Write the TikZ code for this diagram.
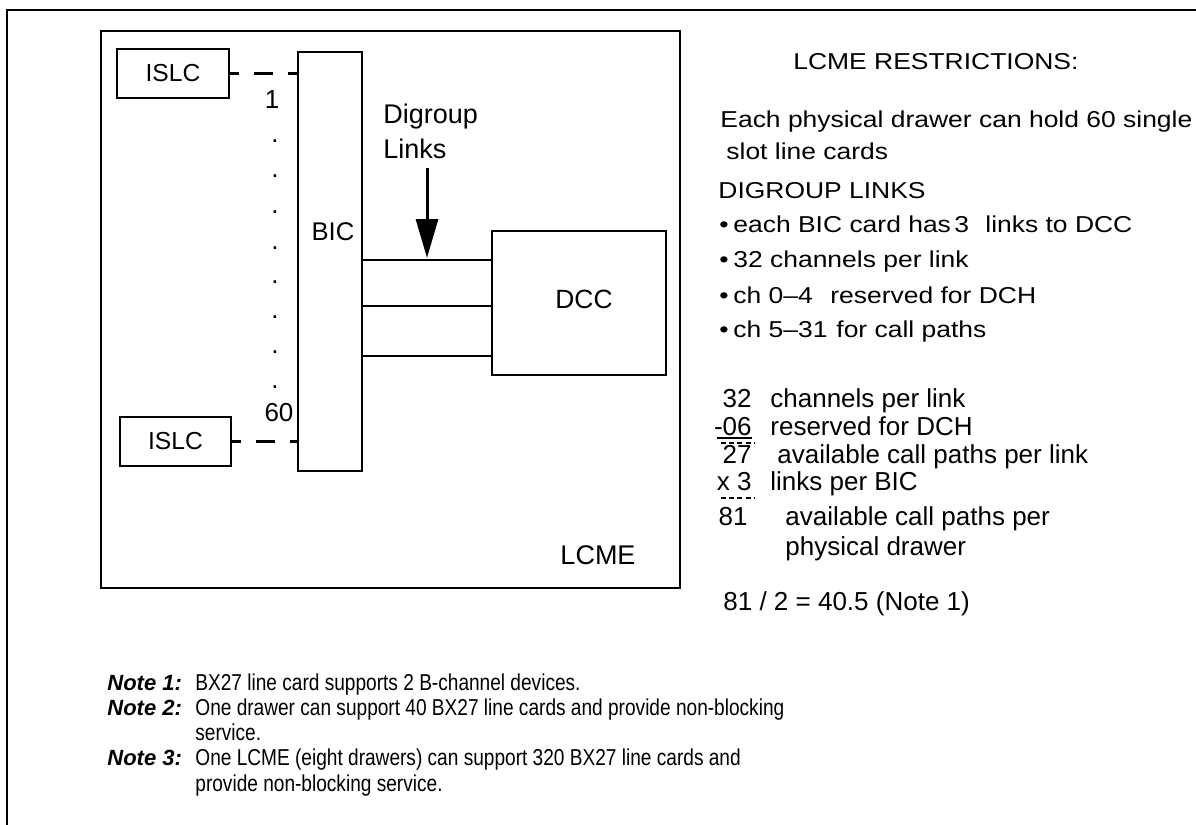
\documentclass[tikz,border=0pt]{standalone}
\usepackage{fontspec}
\setmainfont{Liberation Sans}
\newfontfamily\widefont[FakeStretch=1.15]{Liberation Sans}
\newfontfamily\narrowfont[FakeStretch=0.83]{Liberation Sans}
\usetikzlibrary{arrows.meta}
\newcommand\fsz[1]{\fontsize{#1}{#1}\selectfont}
\begin{document}
\begin{tikzpicture}[x=0.5pt,y=-0.5pt,
  box/.style={draw, line width=1.3pt, inner sep=0pt},
  wire/.style={line width=1.3pt},
  dwire/.style={line width=1.3pt, dash pattern=on 9.5pt off 7.5pt, dash phase=5pt},
  txt/.style={inner sep=0pt, anchor=base west},
  rtxt/.style={inner sep=0pt, anchor=base east},
  rt/.style={txt, font=\widefont\fsz{11.5}},
  calc/.style={txt, font=\fsz{13}},
  calcn/.style={rtxt, font=\fsz{13}},
  note/.style={txt, font=\narrowfont\fsz{11.5}},
  notelab/.style={txt, font=\fsz{11}\bfseries\itshape},
  sep/.style={line width=1pt, dash pattern=on 2.5pt off 1.6pt},
]
\useasboundingbox (0,0) rectangle (1196,825);
% outer frame (left and top only)
\draw[line width=1pt] (7,825) -- (7,10) -- (1196,10);

% LCME drawer
\node[box, minimum width=289.5pt, minimum height=278.5pt] (lcme) at (390.5,309.5) {};
\node[inner sep=0pt, font=\fsz{13.5}] (lcmelab) at (598,555) {LCME};

% ISLC cards
\node[box, minimum width=56pt, minimum height=24.5pt, font=\fsz{12.3}] (islc1) at (173,73.5) {ISLC};
\node[box, minimum width=55.5pt, minimum height=24.5pt, font=\fsz{12.3}] (islc2) at (175.5,441.5) {ISLC};

% BIC
\node[box, minimum width=32pt, minimum height=209.5pt] (bic) at (330,261.5) {};
\node[inner sep=0pt, font=\fsz{12.8}] (biclab) at (333,232) {BIC};

% DCC
\node[box, minimum width=87pt, minimum height=72pt] (dcc) at (579,303) {};
\node[inner sep=0pt, font=\fsz{13.2}] (dcclab) at (584,299) {DCC};

% ISLC to BIC dashed connections
\draw[dwire] (islc1.east) -- (bic.west |- islc1.east);
\draw[dwire] (islc2.east) -- (bic.west |- islc2.east);

% numbering and dots
\node[inner sep=0pt, font=\fsz{13}] (n1) at (272,100) {1};
\node[inner sep=0pt, font=\fsz{13}] (n60) at (279,413) {60};
\foreach \yy [count=\i] in {141,176,212,248,282,317,352,387}
  \node[inner sep=0pt, anchor=base, font=\fsz{13}] (dot\i) at (275,\yy+1.5) {.};

% digroup links
\coordinate (l1) at (0,260);
\coordinate (l2) at (0,306);
\coordinate (l3) at (0,356);
\draw[wire] (bic.east |- l1) -- (dcc.west |- l1);
\draw[wire] (bic.east |- l2) -- (dcc.west |- l2);
\draw[wire] (bic.east |- l3) -- (dcc.west |- l3);

\node[txt, font=\fsz{13.5}] (dg1) at (383,123) {Digroup};
\node[txt, font=\fsz{13.5}] (dg2) at (383,158) {Links};
\coordinate (arrS) at (427,168);
\coordinate (arrE) at (427,258);
\draw[line width=1.5pt, -{Triangle[length=19.5pt,width=11pt]}] (arrS) -- (arrE);

% restrictions text
\node[rt] (r0) at (793,69) {LCME RESTRICTIONS:};
\node[rt] (r1) at (720,127) {Each physical drawer can hold 60 single};
\node[rt] (r2) at (726,159) {slot line cards};
\node[rt] (r3) at (718,198) {DIGROUP LINKS};
\foreach \yy [count=\i] in {232,267,303,337}
  \node[rt] (b\i) at (719,\yy) {•};
\node[rt] (r4) at (733,232) {each BIC card has};
\node[rt] (r4b) at (954,232) {3};
\node[rt] (r4c) at (985,232) {links to DCC};
\node[rt] (r5) at (733,267) {32 channels per link};
\node[rt] (r6) at (733,303) {ch 0–4};
\node[rt] (r6b) at (830,303) {reserved for DCH};
\node[rt] (r7) at (733,337) {ch 5–31};
\node[rt] (r7b) at (836,337) {for call paths};

% calculation
\node[calcn] (c1n) at (752,407) {32};
\node[calc] (c1) at (770,407) {channels per link};
\node[calcn] (c2n) at (752,435.5) {-06};
\node[calc] (c2) at (770,435.5) {reserved for DCH};
\draw[line width=1pt] (c2n.base west) ++(3,2.5) coordinate (u1) -- (c2n.base east |- u1);
\coordinate (s1a) at (721,442.5);
\coordinate (s1b) at (754,442.5);
\draw[sep] (s1a) -- (s1b);
\node[calcn] (c3n) at (752,463.5) {27};
\node[calc] (c3) at (777,463.5) {available call paths per link};
\node[calcn] (c4n) at (752,490) {x 3};
\node[calc] (c4) at (770,490) {links per BIC};
\coordinate (s2a) at (721,497.5);
\coordinate (s2b) at (754,497.5);
\draw[sep] (s2a) -- (s2b);
\node[calcn] (c5n) at (748,525) {81};
\node[calc] (c5) at (785,525) {available call paths per};
\node[calc] (c6) at (785,555) {physical drawer};
\node[calc] (c7) at (723,610) {81 / 2 = 40.5 (Note 1)};

% notes
\node[notelab] (nl1) at (107,690) {Note 1:};
\node[note] (nt1) at (195,690) {BX27 line card supports 2 B-channel devices.};
\node[notelab] (nl2) at (107,715) {Note 2:};
\node[note] (nt2) at (195,715) {One drawer can support 40 BX27 line cards and provide non-blocking};
\node[note] (nt2b) at (195,740) {service.};
\node[notelab] (nl3) at (107,765.5) {Note 3:};
\node[note] (nt3) at (195,765.5) {One LCME (eight drawers) can support 320 BX27 line cards and};
\node[note] (nt3b) at (195,791) {provide non-blocking service.};
\end{tikzpicture}
\end{document}
